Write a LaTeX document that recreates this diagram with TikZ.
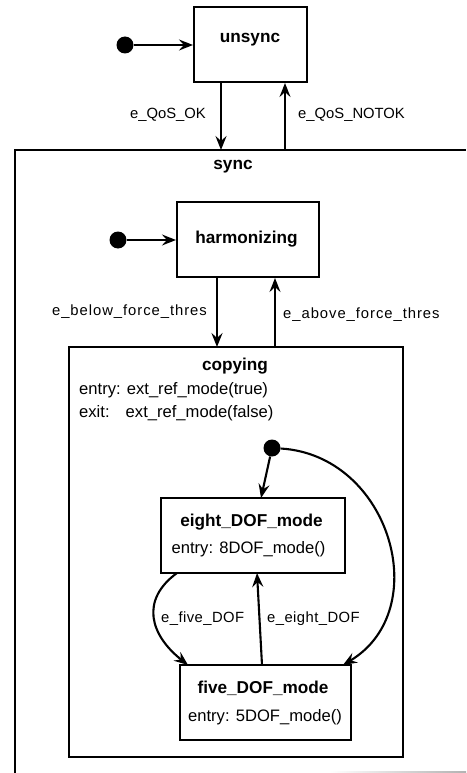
\documentclass[tikz,border=0pt]{standalone}
\usepackage{fontspec}
\setmainfont{Liberation Sans}
\newfontfamily\spacedfont[LetterSpace=6.5]{Liberation Sans}
\newfontfamily\slightfont[LetterSpace=3]{Liberation Sans}
\usetikzlibrary{arrows.meta}
\begin{document}
\begin{tikzpicture}[x=1pt,y=-1pt,
  st/.style={draw,line width=2.1pt,inner sep=0pt},
  tr/.style={line width=2.1pt,-{Stealth[length=14pt,width=11pt,inset=5pt]}},
  init/.style={circle,fill=black,inner sep=0pt,minimum size=17pt},
  lbl/.style={font=\fontsize{14.8}{17}\selectfont,inner sep=0pt},
  ttl/.style={font=\fontsize{17.2}{20}\selectfont\bfseries,inner sep=0pt},
  txt/.style={font=\fontsize{16.6}{19}\selectfont,inner sep=0pt,anchor=west}]
\useasboundingbox (0,0) rectangle (466,773);
% sync container (cut off)
\draw[line width=1.5pt] (15,773) -- (15,150) -- (466,150);
\shade[left color=white,right color=gray!60] (330,771) rectangle (466,773);
\node[ttl] (synct) at (233,167) {sync};
% unsync
\node[st,minimum width=113pt,minimum height=75pt] (unsync) at (250.5,44.5) {};
\node[ttl] at (250,40) {unsync};
\node[init] (i1) at (125,45) {};
\draw[tr] (i1) -- (unsync.west |- i1);
\coordinate (s1) at (221,150);
\coordinate (s2) at (285,150);
\draw[tr] (unsync.south -| s1) -- (s1);
\draw[tr] (s2) -- (unsync.south -| s2);
\node[lbl,anchor=east] at (206,115) {e\_QoS\_OK};
\node[lbl,anchor=west] at (298,115) {e\_QoS\_NOTOK};
% harmonizing
\node[st,minimum width=142pt,minimum height=75pt] (harm) at (248,239.5) {};
\node[ttl] at (246.5,239) {harmonizing};
\node[init] (i2) at (118,240) {};
\draw[tr] (i2) -- (harm.west |- i2);
% copying
\node[st,minimum width=334pt,minimum height=410pt] (copy) at (236,552) {};
\coordinate (c1) at (217,347);
\coordinate (c2) at (275,347);
\draw[tr] (harm.south -| c1) -- (c1);
\draw[tr] (c2) -- (harm.south -| c2);
\node[lbl,anchor=east,font=\fontsize{14.8}{17}\spacedfont] at (207,312) {e\_below\_force\_thres};
\node[lbl,anchor=west,font=\fontsize{14.8}{17}\spacedfont] at (283,315) {e\_above\_force\_thres};
\node[ttl] at (235,366) {copying};
\node[txt] at (79,390) {entry: ext\_ref\_mode(true)};
\node[txt] at (79,413) {exit:\hspace{0.6em} ext\_ref\_mode(false)};
% eight_DOF_mode
\node[st,minimum width=184pt,minimum height=75pt] (eight) at (253,535.5) {};
\node[ttl] at (251.5,522) {eight\_DOF\_mode};
\node[txt,anchor=center] at (248.5,549) {entry: 8DOF\_mode()};
% five_DOF_mode
\node[st,minimum width=171pt,minimum height=75pt] (five) at (265.5,702.5) {};
\node[ttl] at (263,688) {five\_DOF\_mode};
\node[txt,anchor=center] at (265,717) {entry: 5DOF\_mode()};
% initial in copying
\node[init] (i3) at (272,448) {};
\draw[tr] (i3) -- (261,498);
\draw[tr] (i3) .. controls (390,455) and (435,610) .. (343,665);
% transitions between modes
\draw[tr] (177,573) .. controls (140,600) and (150,635) .. (188,665);
\draw[tr] (262,665) -- (257,573);
\node[lbl,anchor=west,font=\fontsize{14.8}{17}\slightfont] at (161,619) {e\_five\_DOF};
\node[lbl,anchor=west,font=\fontsize{14.8}{17}\slightfont] at (267,619) {e\_eight\_DOF};
\end{tikzpicture}
\end{document}
